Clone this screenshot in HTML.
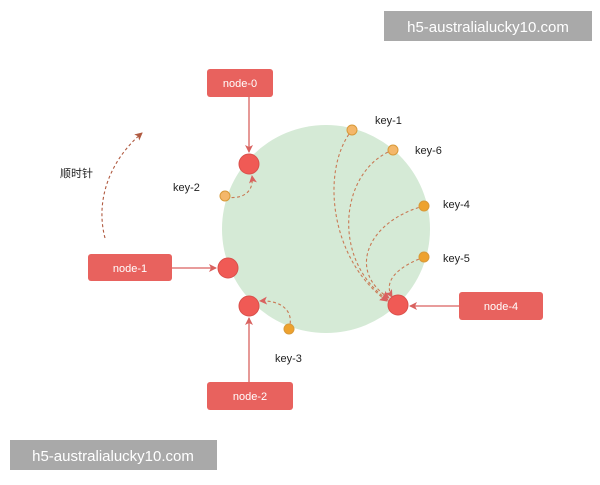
<!DOCTYPE html>
<html><head><style>
body{margin:0;width:600px;height:480px;background:#fff;overflow:hidden;font-family:"Liberation Sans","Noto Sans CJK SC",sans-serif}
</style></head><body>
<svg width="600" height="480" xmlns="http://www.w3.org/2000/svg" font-family="Liberation Sans, Noto Sans CJK SC, sans-serif">
<defs>
<marker id="a" markerWidth="8" markerHeight="8" refX="7" refY="4" orient="auto" markerUnits="userSpaceOnUse"><path d="M0,0 L8,4 L0,8 L2,4z" fill="#d9625f"/></marker>
<marker id="b" markerWidth="8" markerHeight="8" refX="7" refY="4" orient="auto" markerUnits="userSpaceOnUse"><path d="M0,0 L8,4 L0,8 L2,4z" fill="#b05a40"/></marker>
</defs>
<circle cx="326" cy="229" r="104" fill="#d5ead6"/>
<g stroke="#d9625f" stroke-width="1.3" fill="none">
<line x1="249" y1="97" x2="249" y2="152" marker-end="url(#a)"/>
<line x1="172" y1="268" x2="216" y2="268" marker-end="url(#a)"/>
<line x1="249" y1="382" x2="249" y2="318" marker-end="url(#a)"/>
<line x1="459" y1="306" x2="410" y2="306" marker-end="url(#a)"/>
</g>
<g stroke="#c97a55" stroke-width="1.1" fill="none" stroke-dasharray="3,2.5">
<path d="M226,197 C245,200 254,190 252,176" marker-end="url(#a)"/>
<path d="M289,329 C295,310 280,300 260,301" marker-end="url(#a)"/>
<path d="M352,130 C320,170 330,260 387,301" marker-end="url(#a)"/>
<path d="M393,150 C340,170 330,260 388,300" marker-end="url(#a)"/>
<path d="M424,206 C370,220 345,270 389,298" marker-end="url(#a)"/>
<path d="M424,257 C390,270 385,285 392,297" marker-end="url(#a)"/>
<path d="M105,238 C95,200 110,160 142,133" stroke="#b05a40" marker-end="url(#b)"/>
</g>
<g fill="#f05a55" stroke="#d9504b">
<circle cx="249" cy="164" r="10"/><circle cx="228" cy="268" r="10"/><circle cx="249" cy="306" r="10"/><circle cx="398" cy="305" r="10"/>
</g>
<g stroke="#d89a3a" stroke-width="1">
<circle cx="352" cy="130" r="5" fill="#f4b76a"/><circle cx="393" cy="150" r="5" fill="#f4b76a"/>
<circle cx="424" cy="206" r="5" fill="#eea22e"/><circle cx="424" cy="257" r="5" fill="#eea22e"/>
<circle cx="225" cy="196" r="5" fill="#f4b76a"/><circle cx="289" cy="329" r="5" fill="#eea22e"/>
</g>
<g fill="#e8625e">
<rect x="207" y="69" width="66" height="28" rx="3"/>
<rect x="88" y="254" width="84" height="27" rx="3"/>
<rect x="207" y="382" width="86" height="28" rx="3"/>
<rect x="459" y="292" width="84" height="28" rx="3"/>
</g>
<g fill="#fff" font-size="11" text-anchor="middle">
<text x="240" y="87">node-0</text><text x="130" y="272">node-1</text>
<text x="250" y="400">node-2</text><text x="501" y="310">node-4</text>
</g>
<g fill="#222" font-size="11">
<text x="375" y="124">key-1</text><text x="415" y="154">key-6</text>
<text x="443" y="208">key-4</text><text x="443" y="262">key-5</text>
<text x="173" y="191">key-2</text><text x="275" y="362">key-3</text>
<text x="60" y="177">顺时针</text>
</g>
<rect x="384" y="11" width="208" height="30" fill="#a9a9a9"/>
<text x="488" y="32" fill="#fff" font-size="15" text-anchor="middle">h5-australialucky10.com</text>
<rect x="10" y="440" width="207" height="30" fill="#a9a9a9"/>
<text x="113" y="461" fill="#fff" font-size="15" text-anchor="middle">h5-australialucky10.com</text>
</svg>
</body></html>
